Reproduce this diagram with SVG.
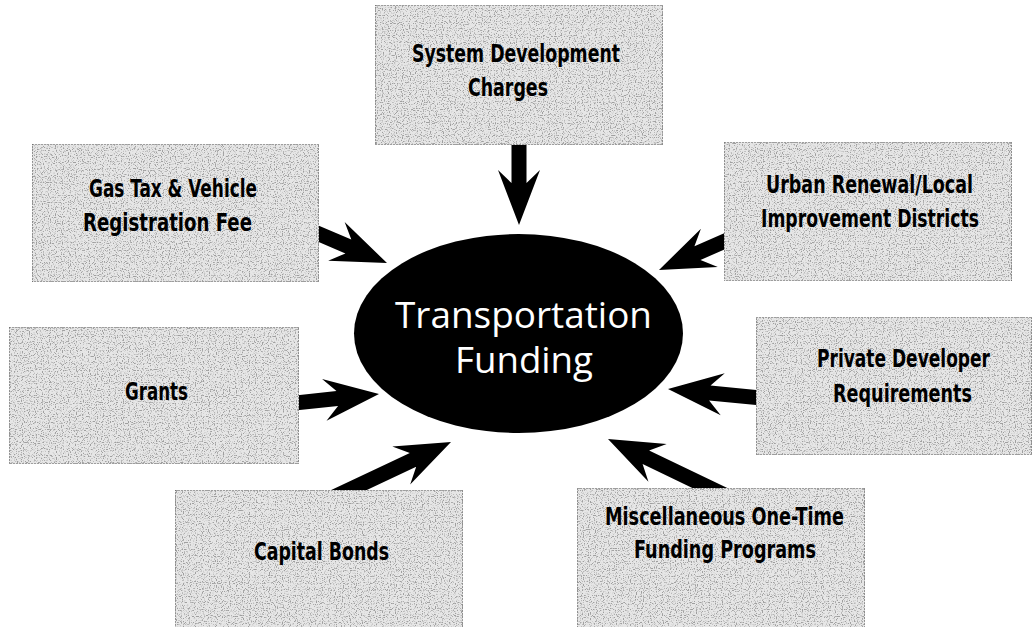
<svg xmlns="http://www.w3.org/2000/svg" width="1033" height="627" viewBox="0 0 1033 627">
<defs>
<filter id="grain" x="0" y="0" width="1" height="1">
<feTurbulence type="fractalNoise" baseFrequency="0.85" numOctaves="1" seed="7" result="noise"/>
<feColorMatrix in="noise" type="matrix" values="0 0 0 0 0.35  0 0 0 0 0.35  0 0 0 0 0.35  0 0 0 6 -3.1" result="speck"/>
<feComposite in="speck" in2="SourceGraphic" operator="atop"/>
</filter>
</defs>
<style>
.box{fill:#e6e6e6;stroke:#555;stroke-width:1.2;stroke-dasharray:2 1;filter:url(#grain)}
.lbl{font-family:'Liberation Sans Narrow','DejaVu Sans Condensed','Liberation Sans',sans-serif;font-weight:bold;font-size:24px;fill:#000;text-anchor:middle}
.hub{font-family:'Open Sans','Noto Sans','Liberation Sans',sans-serif;font-weight:500;font-size:36px;fill:#fff;text-anchor:middle}
.arrow{fill:#000}
</style>
<rect width="1033" height="627" fill="#fff"/>
<g id="connectors">
<path class="arrow" transform="translate(519,225) rotate(90)" d="M0,0 L-55,-21 L-42,-7.5 L-95,-7.5 L-95,7.5 L-42,7.5 L-55,21 Z"/>
<path class="arrow" transform="translate(387,263) rotate(23.1)" d="M0,0 L-55,-21 L-42,-7.5 L-90,-7.5 L-90,7.5 L-42,7.5 L-55,21 Z"/>
<path class="arrow" transform="translate(379,394) rotate(-6.1)" d="M0,0 L-55,-21 L-42,-7.5 L-95,-7.5 L-95,7.5 L-42,7.5 L-55,21 Z"/>
<path class="arrow" transform="translate(451,442) rotate(-25.2)" d="M0,0 L-55,-21 L-42,-7.5 L-130,-7.5 L-130,7.5 L-42,7.5 L-55,21 Z"/>
<path class="arrow" transform="translate(659,270) rotate(156.3)" d="M0,0 L-55,-21 L-42,-7.5 L-90,-7.5 L-90,7.5 L-42,7.5 L-55,21 Z"/>
<path class="arrow" transform="translate(668,389) rotate(185.5)" d="M0,0 L-55,-21 L-42,-7.5 L-105,-7.5 L-105,7.5 L-42,7.5 L-55,21 Z"/>
<path class="arrow" transform="translate(608,439) rotate(205.7)" d="M0,0 L-55,-21 L-42,-7.5 L-130,-7.5 L-130,7.5 L-42,7.5 L-55,21 Z"/>
</g>
<g id="hub">
<ellipse cx="518.5" cy="333.5" rx="164.5" ry="99.5" fill="#000"/>
<text class="hub" x="523.5" y="328" textLength="257" lengthAdjust="spacingAndGlyphs">Transportation</text>
<text class="hub" x="524" y="373" textLength="138" lengthAdjust="spacingAndGlyphs">Funding</text>
</g>
<g id="sdc">
<rect class="box" x="375" y="5" width="288" height="140"/>
<text class="lbl" x="516" y="62" textLength="208" lengthAdjust="spacingAndGlyphs">System Development</text>
<text class="lbl" x="508" y="96" textLength="80" lengthAdjust="spacingAndGlyphs">Charges</text>
</g>
<g id="gastax">
<rect class="box" x="32" y="144" width="287" height="138"/>
<text class="lbl" x="173" y="197" textLength="168" lengthAdjust="spacingAndGlyphs">Gas Tax &amp; Vehicle</text>
<text class="lbl" x="167.5" y="231" textLength="169" lengthAdjust="spacingAndGlyphs">Registration Fee</text>
</g>
<g id="grants">
<rect class="box" x="9" y="327" width="290" height="137"/>
<text class="lbl" x="156.5" y="400" textLength="63" lengthAdjust="spacingAndGlyphs">Grants</text>
</g>
<g id="capital">
<rect class="box" x="175" y="490" width="288" height="140"/>
<text class="lbl" x="321.5" y="560" textLength="135" lengthAdjust="spacingAndGlyphs">Capital Bonds</text>
</g>
<g id="urban">
<rect class="box" x="724" y="142" width="288" height="139"/>
<text class="lbl" x="869.5" y="193" textLength="207" lengthAdjust="spacingAndGlyphs">Urban Renewal/Local</text>
<text class="lbl" x="870" y="227" textLength="218" lengthAdjust="spacingAndGlyphs">Improvement Districts</text>
</g>
<g id="private">
<rect class="box" x="756" y="317" width="276" height="138"/>
<text class="lbl" x="903.5" y="367" textLength="173" lengthAdjust="spacingAndGlyphs">Private Developer</text>
<text class="lbl" x="902.5" y="402" textLength="139" lengthAdjust="spacingAndGlyphs">Requirements</text>
</g>
<g id="misc">
<rect class="box" x="577" y="488" width="288" height="142"/>
<text class="lbl" x="724.5" y="525" textLength="239" lengthAdjust="spacingAndGlyphs">Miscellaneous One-Time</text>
<text class="lbl" x="725" y="558" textLength="182" lengthAdjust="spacingAndGlyphs">Funding Programs</text>
</g>
</svg>
